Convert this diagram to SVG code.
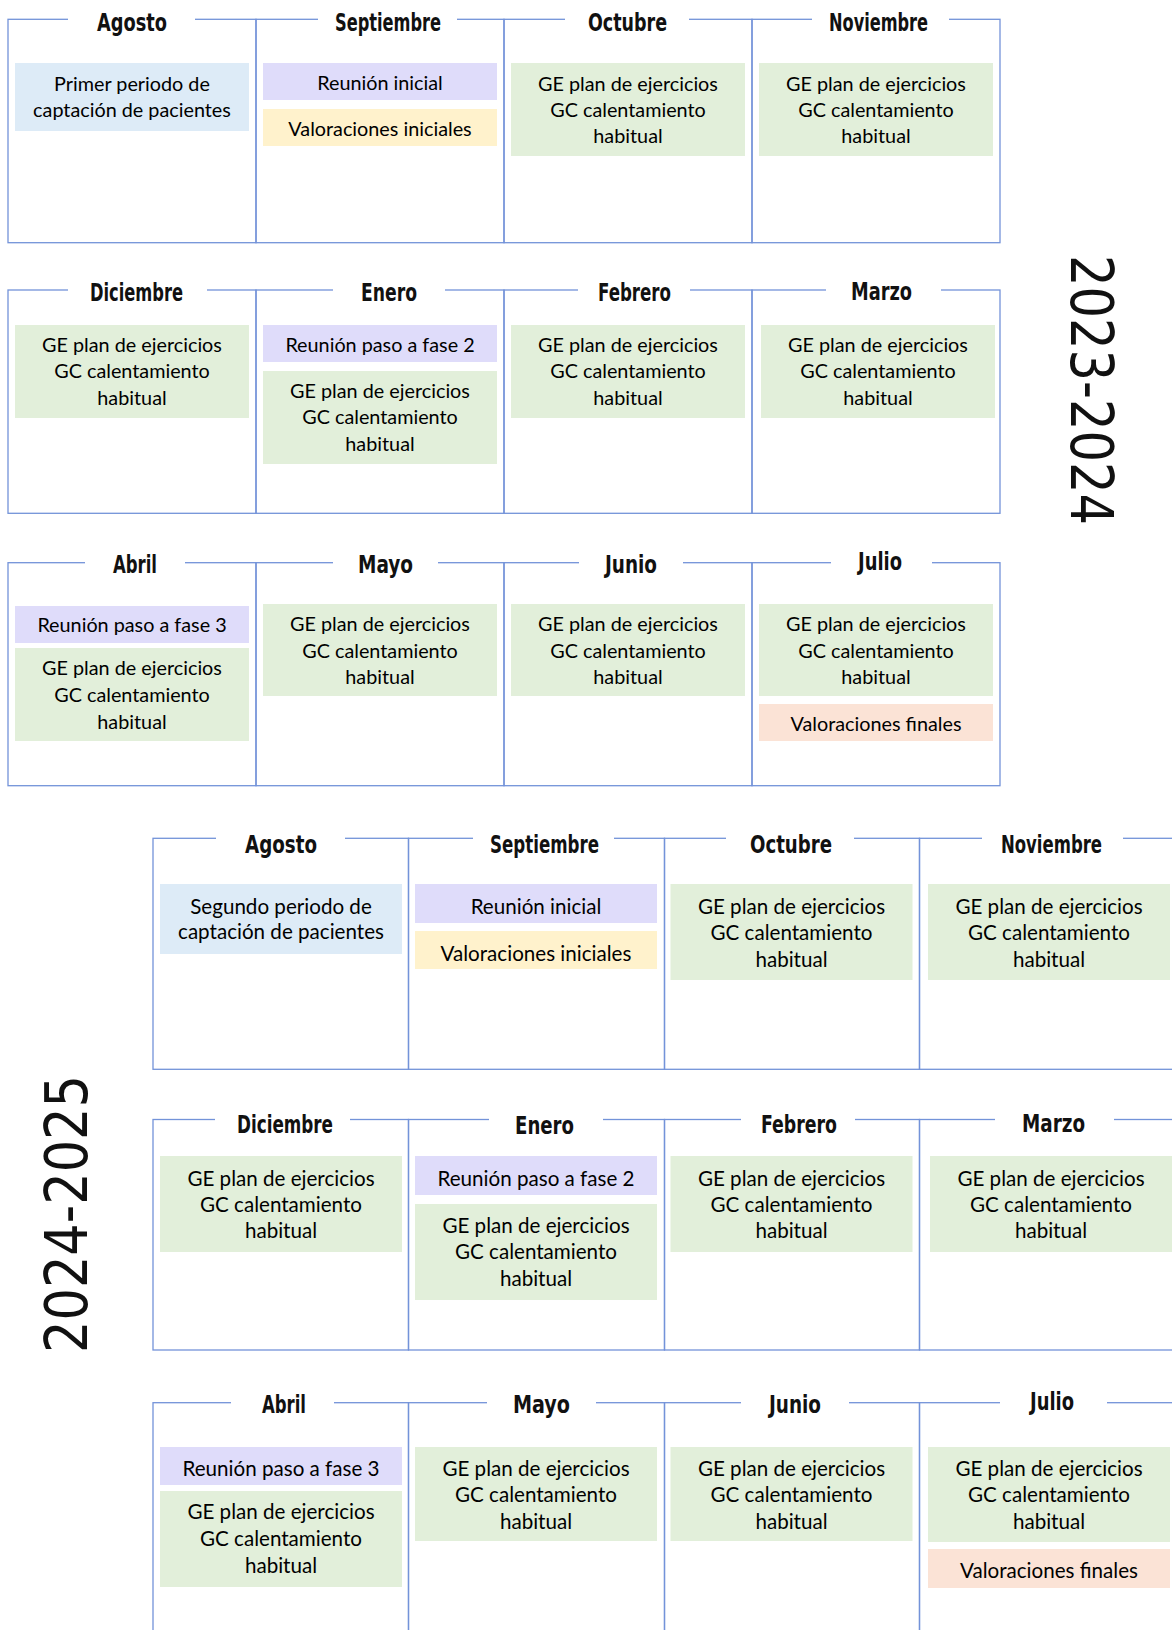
<svg xmlns="http://www.w3.org/2000/svg" width="1172" height="1630" viewBox="0 0 1172 1630">
<style>
.cell{fill:none;stroke:#7393d9;stroke-width:1.3}
.gap{fill:#fff}
.ttl{font-family:"DejaVu Sans Condensed","DejaVu Sans",sans-serif;font-weight:bold;font-size:25px;fill:#111}
.yr{font-family:"DejaVu Sans",sans-serif;font-size:58px;fill:#111;text-anchor:middle}
.t{font-family:Lato,"Liberation Sans",sans-serif;font-size:19.8px;fill:#000;text-anchor:middle}
.y2 .t{font-size:20.6px}
.g{fill:#e2efda}.b{fill:#ddebf7}.p{fill:#dfdcfa}.y{fill:#fff2cc}.o{fill:#fbe3d6}
</style>
<rect width="1172" height="1630" fill="#fff"/>

<g id="y1-agosto">
<rect class="cell" x="8" y="19.3" width="248" height="223.4"/>
<rect class="gap" x="68" y="10" width="127" height="20"/>
<text class="ttl" x="97" y="31" textLength="70" lengthAdjust="spacingAndGlyphs">Agosto</text>
<rect class="b" x="15" y="63" width="234" height="68"/>
<text class="t" x="132" y="90.7">Primer periodo de</text>
<text class="t" x="132" y="117.3">captación de pacientes</text>
</g>
<g id="y1-septiembre">
<rect class="cell" x="256" y="19.3" width="248" height="223.4"/>
<rect class="gap" x="318" y="10" width="139" height="20"/>
<text class="ttl" x="335" y="31" textLength="106" lengthAdjust="spacingAndGlyphs">Septiembre</text>
<rect class="p" x="263" y="63" width="234" height="37"/>
<text class="t" x="380" y="90">Reunión inicial</text>
<rect class="y" x="263" y="109" width="234" height="37"/>
<text class="t" x="380" y="135.5">Valoraciones iniciales</text>
</g>
<g id="y1-octubre">
<rect class="cell" x="504" y="19.3" width="248" height="223.4"/>
<rect class="gap" x="565" y="10" width="124" height="20"/>
<text class="ttl" x="588" y="31" textLength="79" lengthAdjust="spacingAndGlyphs">Octubre</text>
<rect class="g" x="511" y="63" width="234" height="93"/>
<text class="t" x="628" y="90.5">GE plan de ejercicios</text>
<text class="t" x="628" y="117.3">GC calentamiento</text>
<text class="t" x="628" y="143.3">habitual</text>
</g>
<g id="y1-noviembre">
<rect class="cell" x="752" y="19.3" width="248" height="223.4"/>
<rect class="gap" x="812" y="10" width="137" height="20"/>
<text class="ttl" x="829" y="31" textLength="99" lengthAdjust="spacingAndGlyphs">Noviembre</text>
<rect class="g" x="759" y="63" width="234" height="93"/>
<text class="t" x="876" y="90.5">GE plan de ejercicios</text>
<text class="t" x="876" y="117.3">GC calentamiento</text>
<text class="t" x="876" y="143.3">habitual</text>
</g>

<g id="y1-diciembre">
<rect class="cell" x="8" y="290" width="248" height="223.3"/>
<rect class="gap" x="68" y="280" width="139" height="20"/>
<text class="ttl" x="90" y="301" textLength="93" lengthAdjust="spacingAndGlyphs">Diciembre</text>
<rect class="g" x="15" y="325" width="234" height="93"/>
<text class="t" x="132" y="351.5">GE plan de ejercicios</text>
<text class="t" x="132" y="378">GC calentamiento</text>
<text class="t" x="132" y="404.5">habitual</text>
</g>
<g id="y1-enero">
<rect class="cell" x="256" y="290" width="248" height="223.3"/>
<rect class="gap" x="333" y="280" width="112" height="20"/>
<text class="ttl" x="361" y="301" textLength="56" lengthAdjust="spacingAndGlyphs">Enero</text>
<rect class="p" x="263" y="325" width="234" height="37"/>
<text class="t" x="380" y="352">Reunión paso a fase 2</text>
<rect class="g" x="263" y="371" width="234" height="93"/>
<text class="t" x="380" y="397.5">GE plan de ejercicios</text>
<text class="t" x="380" y="424">GC calentamiento</text>
<text class="t" x="380" y="450.5">habitual</text>
</g>
<g id="y1-febrero">
<rect class="cell" x="504" y="290" width="248" height="223.3"/>
<rect class="gap" x="578" y="280" width="112" height="20"/>
<text class="ttl" x="598" y="301" textLength="73" lengthAdjust="spacingAndGlyphs">Febrero</text>
<rect class="g" x="511" y="325" width="234" height="93"/>
<text class="t" x="628" y="351.5">GE plan de ejercicios</text>
<text class="t" x="628" y="378">GC calentamiento</text>
<text class="t" x="628" y="404.5">habitual</text>
</g>
<g id="y1-marzo">
<rect class="cell" x="752" y="290" width="248" height="223.3"/>
<rect class="gap" x="826" y="280" width="115" height="20"/>
<text class="ttl" x="851" y="300" textLength="61" lengthAdjust="spacingAndGlyphs">Marzo</text>
<rect class="g" x="761" y="325" width="234" height="93"/>
<text class="t" x="878" y="351.5">GE plan de ejercicios</text>
<text class="t" x="878" y="378">GC calentamiento</text>
<text class="t" x="878" y="404.5">habitual</text>
</g>

<g id="y1-abril">
<rect class="cell" x="8" y="562.7" width="248" height="223"/>
<rect class="gap" x="85" y="552" width="100" height="20"/>
<text class="ttl" x="113" y="573" textLength="44" lengthAdjust="spacingAndGlyphs">Abril</text>
<rect class="p" x="15" y="606" width="234" height="37"/>
<text class="t" x="132" y="632">Reunión paso a fase 3</text>
<rect class="g" x="15" y="648" width="234" height="93"/>
<text class="t" x="132" y="675">GE plan de ejercicios</text>
<text class="t" x="132" y="702">GC calentamiento</text>
<text class="t" x="132" y="729">habitual</text>
</g>
<g id="y1-mayo">
<rect class="cell" x="256" y="562.7" width="248" height="223"/>
<rect class="gap" x="333" y="552" width="105" height="20"/>
<text class="ttl" x="358" y="573" textLength="55" lengthAdjust="spacingAndGlyphs">Mayo</text>
<rect class="g" x="263" y="604" width="234" height="92"/>
<text class="t" x="380" y="631">GE plan de ejercicios</text>
<text class="t" x="380" y="657.5">GC calentamiento</text>
<text class="t" x="380" y="683.5">habitual</text>
</g>
<g id="y1-junio">
<rect class="cell" x="504" y="562.7" width="248" height="223"/>
<rect class="gap" x="579" y="552" width="104" height="20"/>
<text class="ttl" x="605" y="573" textLength="52" lengthAdjust="spacingAndGlyphs">Junio</text>
<rect class="g" x="511" y="604" width="234" height="92"/>
<text class="t" x="628" y="631">GE plan de ejercicios</text>
<text class="t" x="628" y="657.5">GC calentamiento</text>
<text class="t" x="628" y="683.5">habitual</text>
</g>
<g id="y1-julio">
<rect class="cell" x="752" y="562.7" width="248" height="223"/>
<rect class="gap" x="831" y="552" width="101" height="20"/>
<text class="ttl" x="858" y="570" textLength="44" lengthAdjust="spacingAndGlyphs">Julio</text>
<rect class="g" x="759" y="604" width="234" height="92"/>
<text class="t" x="876" y="631">GE plan de ejercicios</text>
<text class="t" x="876" y="657.5">GC calentamiento</text>
<text class="t" x="876" y="683.5">habitual</text>
<rect class="o" x="759" y="704" width="234" height="37"/>
<text class="t" x="876" y="731">Valoraciones finales</text>
</g>

<g id="year-2023-2024">
<text class="yr" transform="translate(1071,390) rotate(90)" x="0" y="0" textLength="270" lengthAdjust="spacingAndGlyphs">2023-2024</text>
</g>

<g class="y2">
<g id="y2-agosto">
<rect class="cell" x="153" y="838.3" width="255.5" height="231"/>
<rect class="gap" x="216" y="828" width="129" height="20"/>
<text class="ttl" x="245" y="853" textLength="72" lengthAdjust="spacingAndGlyphs">Agosto</text>
<rect class="b" x="160" y="884" width="242" height="70"/>
<text class="t" x="281" y="913.5">Segundo periodo de</text>
<text class="t" x="281" y="939">captación de pacientes</text>
</g>
<g id="y2-septiembre">
<rect class="cell" x="408.5" y="838.3" width="256" height="231"/>
<rect class="gap" x="473" y="828" width="141" height="20"/>
<text class="ttl" x="490" y="853" textLength="109" lengthAdjust="spacingAndGlyphs">Septiembre</text>
<rect class="p" x="415" y="884" width="242" height="39"/>
<text class="t" x="536" y="913.5">Reunión inicial</text>
<rect class="y" x="415" y="931" width="242" height="38"/>
<text class="t" x="536" y="960.5">Valoraciones iniciales</text>
</g>
<g id="y2-octubre">
<rect class="cell" x="664.5" y="838.3" width="255" height="231"/>
<rect class="gap" x="726" y="828" width="128" height="20"/>
<text class="ttl" x="750" y="853" textLength="82" lengthAdjust="spacingAndGlyphs">Octubre</text>
<rect class="g" x="670.5" y="884" width="242" height="96"/>
<text class="t" x="791.5" y="913.5">GE plan de ejercicios</text>
<text class="t" x="791.5" y="939.5">GC calentamiento</text>
<text class="t" x="791.5" y="966.5">habitual</text>
</g>
<g id="y2-noviembre">
<rect class="cell" x="919.5" y="838.3" width="270" height="231"/>
<rect class="gap" x="982" y="828" width="141" height="20"/>
<text class="ttl" x="1001" y="853" textLength="101" lengthAdjust="spacingAndGlyphs">Noviembre</text>
<rect class="g" x="928" y="884" width="242" height="96"/>
<text class="t" x="1049" y="913.5">GE plan de ejercicios</text>
<text class="t" x="1049" y="939.5">GC calentamiento</text>
<text class="t" x="1049" y="966.5">habitual</text>
</g>

<g id="y2-diciembre">
<rect class="cell" x="153" y="1119.5" width="255.5" height="230.5"/>
<rect class="gap" x="215" y="1109" width="135" height="20"/>
<text class="ttl" x="237" y="1133" textLength="96" lengthAdjust="spacingAndGlyphs">Diciembre</text>
<rect class="g" x="160" y="1156" width="242" height="96"/>
<text class="t" x="281" y="1185.5">GE plan de ejercicios</text>
<text class="t" x="281" y="1211.5">GC calentamiento</text>
<text class="t" x="281" y="1238">habitual</text>
</g>
<g id="y2-enero">
<rect class="cell" x="408.5" y="1119.5" width="256" height="230.5"/>
<rect class="gap" x="489" y="1109" width="114" height="20"/>
<text class="ttl" x="515" y="1134" textLength="59" lengthAdjust="spacingAndGlyphs">Enero</text>
<rect class="p" x="415" y="1156" width="242" height="39"/>
<text class="t" x="536" y="1185.5">Reunión paso a fase 2</text>
<rect class="g" x="415" y="1204" width="242" height="96"/>
<text class="t" x="536" y="1233">GE plan de ejercicios</text>
<text class="t" x="536" y="1259">GC calentamiento</text>
<text class="t" x="536" y="1286">habitual</text>
</g>
<g id="y2-febrero">
<rect class="cell" x="664.5" y="1119.5" width="255" height="230.5"/>
<rect class="gap" x="741" y="1109" width="114" height="20"/>
<text class="ttl" x="761" y="1133" textLength="76" lengthAdjust="spacingAndGlyphs">Febrero</text>
<rect class="g" x="670.5" y="1156" width="242" height="96"/>
<text class="t" x="791.5" y="1185.5">GE plan de ejercicios</text>
<text class="t" x="791.5" y="1211.5">GC calentamiento</text>
<text class="t" x="791.5" y="1238">habitual</text>
</g>
<g id="y2-marzo">
<rect class="cell" x="919.5" y="1119.5" width="270" height="230.5"/>
<rect class="gap" x="995" y="1109" width="119" height="20"/>
<text class="ttl" x="1022" y="1132" textLength="63" lengthAdjust="spacingAndGlyphs">Marzo</text>
<rect class="g" x="930" y="1156" width="242" height="96"/>
<text class="t" x="1051" y="1185.5">GE plan de ejercicios</text>
<text class="t" x="1051" y="1211.5">GC calentamiento</text>
<text class="t" x="1051" y="1238">habitual</text>
</g>

<g id="y2-abril">
<rect class="cell" x="153" y="1402.7" width="255.5" height="260"/>
<rect class="gap" x="231" y="1392" width="103" height="20"/>
<text class="ttl" x="262" y="1413" textLength="44" lengthAdjust="spacingAndGlyphs">Abril</text>
<rect class="p" x="160" y="1447" width="242" height="38"/>
<text class="t" x="281" y="1476">Reunión paso a fase 3</text>
<rect class="g" x="160" y="1491" width="242" height="96"/>
<text class="t" x="281" y="1519.3">GE plan de ejercicios</text>
<text class="t" x="281" y="1546">GC calentamiento</text>
<text class="t" x="281" y="1573.3">habitual</text>
</g>
<g id="y2-mayo">
<rect class="cell" x="408.5" y="1402.7" width="256" height="260"/>
<rect class="gap" x="487" y="1392" width="109" height="20"/>
<text class="ttl" x="513" y="1413" textLength="57" lengthAdjust="spacingAndGlyphs">Mayo</text>
<rect class="g" x="415" y="1447" width="242" height="94"/>
<text class="t" x="536" y="1475.5">GE plan de ejercicios</text>
<text class="t" x="536" y="1502">GC calentamiento</text>
<text class="t" x="536" y="1528.5">habitual</text>
</g>
<g id="y2-junio">
<rect class="cell" x="664.5" y="1402.7" width="255" height="260"/>
<rect class="gap" x="741" y="1392" width="108" height="20"/>
<text class="ttl" x="769" y="1413" textLength="52" lengthAdjust="spacingAndGlyphs">Junio</text>
<rect class="g" x="670.5" y="1447" width="242" height="94"/>
<text class="t" x="791.5" y="1475.5">GE plan de ejercicios</text>
<text class="t" x="791.5" y="1502">GC calentamiento</text>
<text class="t" x="791.5" y="1528.5">habitual</text>
</g>
<g id="y2-julio">
<rect class="cell" x="919.5" y="1402.7" width="270" height="260"/>
<rect class="gap" x="1000" y="1392" width="107" height="20"/>
<text class="ttl" x="1030" y="1410" textLength="44" lengthAdjust="spacingAndGlyphs">Julio</text>
<rect class="g" x="928" y="1447" width="242" height="95"/>
<text class="t" x="1049" y="1475.5">GE plan de ejercicios</text>
<text class="t" x="1049" y="1502">GC calentamiento</text>
<text class="t" x="1049" y="1528.5">habitual</text>
<rect class="o" x="928" y="1549" width="242" height="39"/>
<text class="t" x="1049" y="1578">Valoraciones finales</text>
</g>
</g>

<g id="year-2024-2025">
<text class="yr" transform="translate(87,1214) rotate(-90)" x="0" y="0" textLength="278" lengthAdjust="spacingAndGlyphs">2024-2025</text>
</g>

<g id="connectors"></g>
</svg>
